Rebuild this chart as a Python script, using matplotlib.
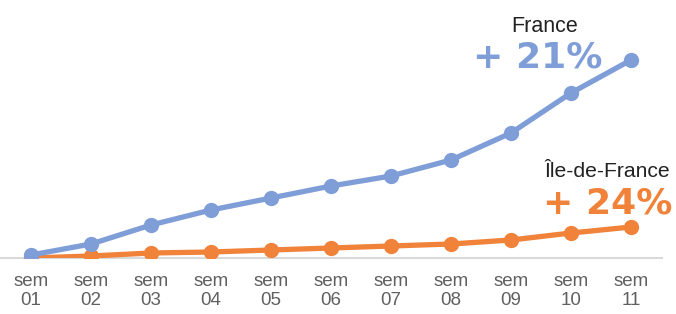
import matplotlib
matplotlib.use("Agg")
import matplotlib.pyplot as plt

weeks = ["01", "02", "03", "04", "05", "06", "07", "08", "09", "10", "11"]
france = [3, 14, 33, 48, 60, 72, 82, 98, 125, 165, 198]
idf = [0, 2, 5, 6, 8, 10, 12, 14, 18, 25, 31]
tick_labels = ["sem\n" + w for w in weeks]

blue = "#7F9ED8"
orange = "#F0823A"

plt.rcParams['font.family'] = ['Liberation Sans', 'DejaVu Sans']

W, H = 676, 314
fig = plt.figure(figsize=(W / 100, H / 100), dpi=100)
ax = fig.add_axes([0, 1 - 258 / H, 662 / W, 258 / H])

x = list(range(1, len(weeks) + 1))
ax.plot(x, idf, color=orange, lw=3.8, marker='o', ms=10, zorder=3, solid_capstyle='round')
ax.plot(x, france, color=blue, lw=3.8, marker='o', ms=10, zorder=4, solid_capstyle='round')

ax.set_xlim(1 - 31 / 60, 11 + 31 / 60)
ax.set_ylim(0, 258)
ax.axhline(0, color="#D9D9D9", lw=1.5, zorder=1, clip_on=False)
for s in ax.spines.values():
    s.set_visible(False)
ax.set_yticks([])
ax.set_xticks(x)
ax.set_xticklabels(tick_labels, fontsize=13.5, color="#606060", linespacing=1.1)
ax.tick_params(axis='x', length=0, pad=11)
ax.patch.set_alpha(0)

def fx(px):
    return px / W

def fy(py):
    return 1 - py / H

fig.text(fx(545), fy(32), "France", ha='center', va='baseline', fontsize=15.5, color="#222222")
fig.text(fx(473), fy(68), "+ 21%", ha='left', va='baseline', fontsize=26, color=blue,
         fontweight='bold', family=['DejaVu Sans'])
fig.text(fx(544), fy(177), "Île-de-France", ha='left', va='baseline', fontsize=15.2, color="#222222")
fig.text(fx(543), fy(213), "+ 24%", ha='left', va='baseline', fontsize=26, color=orange,
         fontweight='bold', family=['DejaVu Sans'])

fig.savefig("out.png", dpi=100)
